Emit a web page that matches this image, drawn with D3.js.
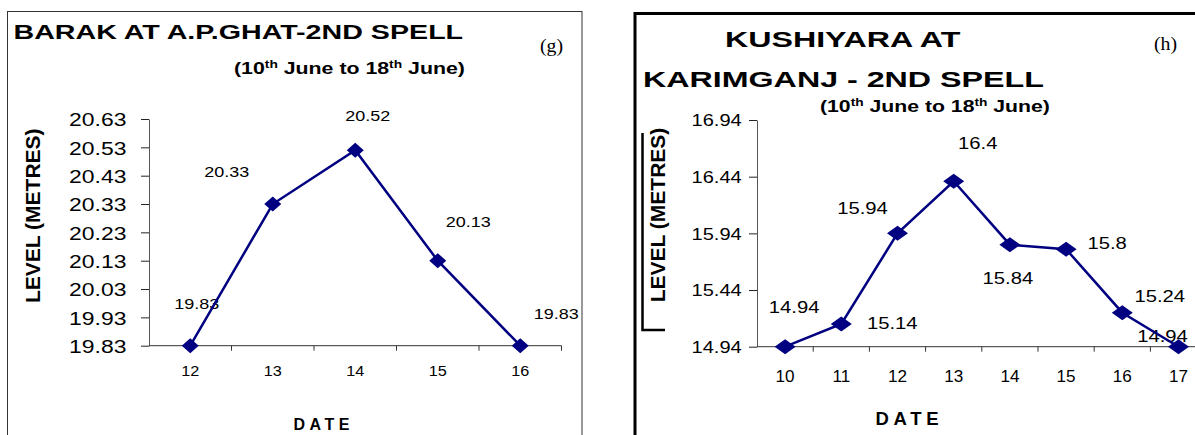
<!DOCTYPE html>
<html>
<head>
<meta charset="utf-8">
<script src="https://cdn.jsdelivr.net/npm/d3@7"></script>
<style>
  body { margin: 0; background: #fff; }
  svg { display: block; }
  text { font-family: "Liberation Sans", Arial, sans-serif; fill: #000; }
</style>
</head>
<body>
<svg width="1195" height="435"></svg>
<script>
// chart values
let barakDates = ["12", "13", "14", "15", "16"]
let barakLevels = [19.83, 20.33, 20.52, 20.13, 19.83]
let barakTicks = [19.83, 19.93, 20.03, 20.13, 20.23, 20.33, 20.43, 20.53, 20.63]

let kushDates = ["10", "11", "12", "13", "14", "15", "16", "17"]
let kushLevels = [14.94, 15.14, 15.94, 16.4, 15.84, 15.8, 15.24, 14.94]
let kushTicks = [14.94, 15.44, 15.94, 16.44, 16.94]

// where each value label sits relative to its point (px)
let barakLabelOffsets = [[6.5, -42], [-46, -32], [12.6, -35], [30.6, -39.5], [36, -32]]
let kushLabelOffsets = [[9, -40], [51, -1], [-35, -25], [24, -38], [-2, 33], [41, -6], [37.5, -17], [-16, -10.7]]

let navy = "#000080"
let svg = d3.select("svg")

function fitText(sel, width) {
    let w = sel.node().getComputedTextLength()
    let t = sel.attr("data-t")
    sel.attr("transform", t + " scale(" + (width / w) + ",1)")
}

function addTitle(str, x, y, size, width) {
    let t = svg.append("text")
        .attr("data-t", "translate(" + x + "," + y + ")")
        .attr("font-weight", "bold")
        .attr("font-size", size + "px")
        .text(str)
    fitText(t, width)
}

function addSubtitle(x, y, width) {
    let t = svg.append("text")
        .attr("data-t", "translate(" + x + "," + y + ")")
        .attr("font-weight", "bold")
        .attr("font-size", "17px")
    t.append("tspan").text("(10")
    t.append("tspan").attr("dy", -6).attr("font-size", "11px").text("th")
    t.append("tspan").attr("dy", 6).text(" June to 18")
    t.append("tspan").attr("dy", -6).attr("font-size", "11px").text("th")
    t.append("tspan").attr("dy", 6).text(" June)")
    fitText(t, width)
}

function addTag(str, x, y) {
    svg.append("text")
        .attr("transform", "translate(" + x + "," + y + ") scale(1.1,1)")
        .attr("text-anchor", "middle")
        .style("font-family", "'Liberation Serif', 'Times New Roman', serif")
        .attr("font-size", "18px")
        .text(str)
}

function drawPanel(p) {
    let g = svg.append("g")

    let x = d3.scaleBand().domain(p.dates).range([p.x0, p.x0 + p.step * p.nBands])
    let y = d3.scaleLinear().domain([p.ticks[0], p.ticks[p.ticks.length - 1]]).range([p.yBot, p.yTop])

    // y axis
    let yAxis = g.append("g")
        .attr("transform", "translate(" + p.x0 + ",0)")
        .call(d3.axisLeft(y).tickValues(p.ticks).tickSize(8).tickSizeOuter(0).tickFormat(d3.format(".2f")))
    yAxis.select(".domain").attr("stroke", "#555")
    yAxis.selectAll(".tick line").attr("stroke", "#222")
    yAxis.selectAll(".tick text")
        .attr("x", -p.yLabelGap / p.tickSx)
        .attr("dy", "0.36em")
        .attr("transform", "scale(" + p.tickSx + ",1)")
        .style("font-family", "'Liberation Sans', Arial, sans-serif")
        .attr("font-size", p.yTickSize + "px")
        .attr("fill", "#000")

    // x axis: labels in band centres, ticks on band edges
    let xAxis = g.append("g")
        .attr("transform", "translate(0," + p.yBot + ")")
        .call(d3.axisBottom(x).tickSize(0).tickSizeOuter(0))
    xAxis.select(".domain").remove()
    xAxis.selectAll(".tick text")
        .attr("y", p.xLabelGap)
        .attr("dy", 0)
        .attr("transform", "scale(" + p.xTickSx + ",1)")
        .style("font-family", "'Liberation Sans', Arial, sans-serif")
        .attr("font-size", p.xTickSize + "px")
        .attr("fill", "#000")
    xAxis.selectAll(".tick text").each(function (d) {
        d3.select(this.parentNode).attr("transform", "translate(" + (x(d) + x.bandwidth() / 2) + ",0)")
    })
    g.append("line")
        .attr("x1", p.x0).attr("x2", p.xAxisEnd)
        .attr("y1", p.yBot).attr("y2", p.yBot)
        .attr("stroke", "#333")
    g.selectAll(".xedge")
        .data(d3.range(1, p.nBands + 1))
        .join("line")
        .attr("class", "xedge")
        .attr("x1", i => p.x0 + i * x.step()).attr("x2", i => p.x0 + i * x.step())
        .attr("y1", p.yBot).attr("y2", p.yBot + 5)
        .attr("stroke", "#333")

    let pts = p.levels.map((v, i) => ({ date: p.dates[i], v: v, off: p.offsets[i] }))
    let cx = d => x(d.date) + x.bandwidth() / 2

    // value labels
    g.selectAll(".vlab")
        .data(pts)
        .join("text")
        .attr("class", "vlab")
        .attr("transform", d => "translate(" + (cx(d) + d.off[0]) + "," + (y(d.v) + d.off[1] + 0.36 * p.labelSize) + ") scale(" + p.labelSx + ",1)")
        .attr("text-anchor", "middle")
        .attr("font-size", p.labelSize + "px")
        .text(d => d.v)

    let line = d3.line()
        .x(cx)
        .y(d => y(d.v))
    g.append("path")
        .datum(pts)
        .attr("d", line)
        .attr("fill", "none")
        .attr("stroke", navy)
        .attr("stroke-width", 2.5)

    let hw = p.markW, hh = 7.5
    g.selectAll(".mark")
        .data(pts)
        .join("path")
        .attr("class", "mark")
        .attr("d", d => "M" + (cx(d) - hw) + "," + y(d.v) + "L" + cx(d) + "," + (y(d.v) - hh) +
            "L" + (cx(d) + hw) + "," + y(d.v) + "L" + cx(d) + "," + (y(d.v) + hh) + "Z")
        .attr("fill", navy)

    // axis titles
    g.append("text")
        .attr("transform", "translate(" + p.levelX + "," + p.levelY + ") rotate(-90)")
        .attr("text-anchor", "middle")
        .attr("font-weight", "bold")
        .attr("font-size", "21px")
        .text("LEVEL (METRES)")

    g.append("text")
        .attr("x", p.dateX + p.dateSpacing / 2)
        .attr("y", p.dateY)
        .attr("text-anchor", "middle")
        .attr("font-weight", "bold")
        .attr("font-size", p.dateSize + "px")
        .attr("letter-spacing", p.dateSpacing + "px")
        .text("DATE")
}

// frames
svg.append("rect")
    .attr("x", 7.5).attr("y", 11.5)
    .attr("width", 574.5).attr("height", 500)
    .attr("fill", "none")
    .attr("stroke", "#333")
svg.append("path")
    .attr("d", "M635,440V13.5H1200")
    .attr("fill", "none")
    .attr("stroke", "#000")
    .attr("stroke-width", 3)
svg.append("path")
    .attr("d", "M642.5,133V330H665")
    .attr("fill", "none")
    .attr("stroke", "#000")
    .attr("stroke-width", 2.5)

addTitle("BARAK AT A.P.GHAT-2ND SPELL", 13.5, 39.3, 20, 450)
addSubtitle(234, 74, 231)
addTag("(g)", 551.5, 52)

addTitle("KUSHIYARA AT", 725, 47.3, 22, 235.5)
addTitle("KARIMGANJ - 2ND SPELL", 643, 87.3, 22, 401)
addSubtitle(820, 111.7, 230)
addTag("(h)", 1165.5, 49.5)

drawPanel({
    dates: barakDates, levels: barakLevels, ticks: barakTicks, offsets: barakLabelOffsets,
    x0: 149, step: 82.5, nBands: 5, xAxisEnd: 561.5,
    yTop: 119, yBot: 345.7,
    yTickSize: 18.5, tickSx: 1.24, yLabelGap: 22.5,
    xTickSize: 14.5, xTickSx: 1.12, xLabelGap: 30,
    labelSize: 15, labelSx: 1.2, markW: 8.5,
    levelX: 40.2, levelY: 215.7,
    dateX: 321.5, dateY: 430, dateSize: 16, dateSpacing: 4.5
})

drawPanel({
    dates: kushDates, levels: kushLevels, ticks: kushTicks, offsets: kushLabelOffsets,
    x0: 757, step: 56.2, nBands: 8, xAxisEnd: 1200,
    yTop: 120, yBot: 346.7,
    yTickSize: 16.3, tickSx: 1.23, yLabelGap: 15.3,
    xTickSize: 16.3, xTickSx: 1.05, xLabelGap: 35,
    labelSize: 17, labelSx: 1.19, markW: 10.5,
    levelX: 665, levelY: 215,
    dateX: 907, dateY: 425, dateSize: 18.5, dateSpacing: 4.7
})
</script>
</body>
</html>
